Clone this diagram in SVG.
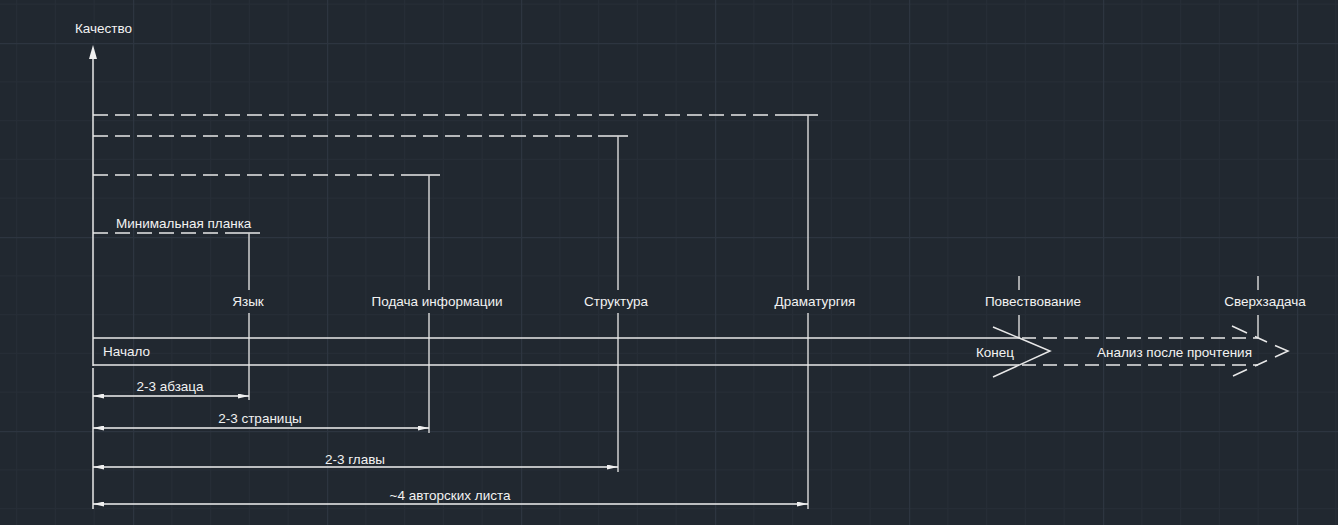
<svg xmlns="http://www.w3.org/2000/svg" width="1338" height="525" viewBox="0 0 1338 525">
  <defs>
    <pattern id="grid" x="133" y="43" width="194" height="194" patternUnits="userSpaceOnUse">
      <g fill="#262d36">
        <rect x="38.3" y="0" width="1" height="194"/>
        <rect x="77.1" y="0" width="1" height="194"/>
        <rect x="115.9" y="0" width="1" height="194"/>
        <rect x="154.7" y="0" width="1" height="194"/>
        <rect x="0" y="38.3" width="194" height="1"/>
        <rect x="0" y="77.1" width="194" height="1"/>
        <rect x="0" y="115.9" width="194" height="1"/>
        <rect x="0" y="154.7" width="194" height="1"/>
      </g>
      <g fill="#2d3540">
        <rect x="0" y="0" width="1.2" height="194"/>
        <rect x="0" y="0" width="194" height="1.2"/>
      </g>
    </pattern>
    <marker id="dimEnd" viewBox="0 0 11 5" refX="11" refY="2.5" markerWidth="11" markerHeight="5" markerUnits="userSpaceOnUse" orient="auto">
      <path d="M0,0 L11,2.5 L0,5 Z" fill="#f0f0f0"/>
    </marker>
    <marker id="dimStart" viewBox="0 0 11 5" refX="0" refY="2.5" markerWidth="11" markerHeight="5" markerUnits="userSpaceOnUse" orient="auto">
      <path d="M11,0 L0,2.5 L11,5 Z" fill="#f0f0f0"/>
    </marker>
  </defs>
  <style>
    .ln { stroke: #e8e8e8; stroke-width: 1.5; fill: none; }
    .vl { stroke: #d0d0d0; stroke-width: 1.5; fill: none; }
    .ds { stroke: #e8e8e8; stroke-width: 1.5; fill: none; stroke-dasharray: 15 7; }
    .dsb { stroke: #e8e8e8; stroke-width: 1.5; fill: none; stroke-dasharray: 14 7; }
    .dim { stroke: #f0f0f0; stroke-width: 1.5; fill: none; marker-start: url(#dimStart); marker-end: url(#dimEnd); }
    text { font-family: "Liberation Sans", Arial, sans-serif; font-size: 13.5px; fill: #f2f2f2; }
    .c { text-anchor: middle; }
  </style>

  <rect x="0" y="0" width="1338" height="525" fill="#212830"/>
  <rect x="0" y="0" width="1338" height="525" fill="url(#grid)"/>

  <g id="axis">
    <line class="ln" x1="93" y1="58" x2="93" y2="366"/>
    <line class="ln" x1="93" y1="368" x2="93" y2="509"/>
    <polygon points="93,45 89,59 97,59" fill="#f0f0f0"/>
    <text x="75" y="33">Качество</text>
  </g>

  <g id="level-min">
    <line class="ds" x1="93" y1="233" x2="227" y2="233"/>
    <line class="ln" x1="227" y1="233" x2="260" y2="233"/>
    <text x="116" y="228">Минимальная планка</text>
  </g>
  <g id="level-2">
    <line class="ds" x1="93" y1="175" x2="404" y2="175"/>
    <line class="ln" x1="404" y1="175" x2="440" y2="175"/>
  </g>
  <g id="level-3">
    <line class="ds" x1="93" y1="136" x2="598" y2="136"/>
    <line class="ln" x1="598" y1="136" x2="628" y2="136"/>
  </g>
  <g id="level-4">
    <line class="ds" x1="93" y1="115" x2="782" y2="115"/>
    <line class="ln" x1="782" y1="115" x2="818" y2="115"/>
  </g>

  <g id="node-yazyk">
    <line class="vl" x1="249" y1="233" x2="249" y2="290"/>
    <line class="vl" x1="249" y1="313" x2="249" y2="400"/>
    <text class="c" x="248" y="306">Язык</text>
  </g>
  <g id="node-podacha">
    <line class="vl" x1="429" y1="175" x2="429" y2="290"/>
    <line class="vl" x1="429" y1="313" x2="429" y2="433"/>
    <text class="c" x="437" y="306">Подача информации</text>
  </g>
  <g id="node-struktura">
    <line class="vl" x1="618" y1="136" x2="618" y2="290"/>
    <line class="vl" x1="618" y1="313" x2="618" y2="472"/>
    <text class="c" x="616" y="306">Структура</text>
  </g>
  <g id="node-dramaturgiya">
    <line class="vl" x1="808" y1="115" x2="808" y2="290"/>
    <line class="vl" x1="808" y1="313" x2="808" y2="509"/>
    <text class="c" x="815" y="306">Драматургия</text>
  </g>
  <g id="node-povestvovanie">
    <line class="vl" x1="1019" y1="276" x2="1019" y2="290"/>
    <line class="vl" x1="1019" y1="315" x2="1019" y2="338"/>
    <text class="c" x="1033" y="306">Повествование</text>
  </g>
  <g id="node-sverkhzadacha">
    <line class="vl" x1="1258" y1="276" x2="1258" y2="290"/>
    <line class="vl" x1="1258" y1="315" x2="1258" y2="338"/>
    <text class="c" x="1265" y="306">Сверхзадача</text>
  </g>

  <g id="timeline">
    <line class="ln" x1="93" y1="338" x2="1020" y2="338"/>
    <line class="ln" x1="93" y1="365" x2="1019" y2="365"/>
    <polyline class="ln" points="993,327 1050,351 993,377"/>
    <text x="103" y="356">Начало</text>
    <text x="976" y="357">Конец</text>
  </g>
  <g id="after-reading">
    <line class="dsb" x1="1022" y1="338" x2="1258" y2="338"/>
    <line class="dsb" x1="1022" y1="365" x2="1258" y2="365"/>
    <path class="ln" d="M1232,326 L1247,333 M1255,336.5 L1267,342 M1275,345.5 L1288,351 L1275,357 M1267,360.5 L1255,366 M1247,369.5 L1233,376"/>
    <text x="1097" y="357">Анализ после прочтения</text>
  </g>

  <g id="connectors">
    <line class="dim" x1="93" y1="396" x2="249" y2="396"/>
    <text class="c" x="170" y="391">2-3 абзаца</text>
    <line class="dim" x1="93" y1="428" x2="429" y2="428"/>
    <text class="c" x="260" y="423">2-3 страницы</text>
    <line class="dim" x1="93" y1="467" x2="618" y2="467"/>
    <text class="c" x="355" y="464">2-3 главы</text>
    <line class="dim" x1="93" y1="504" x2="808" y2="504"/>
    <text class="c" x="450" y="500">~4 авторских листа</text>
  </g>
</svg>
